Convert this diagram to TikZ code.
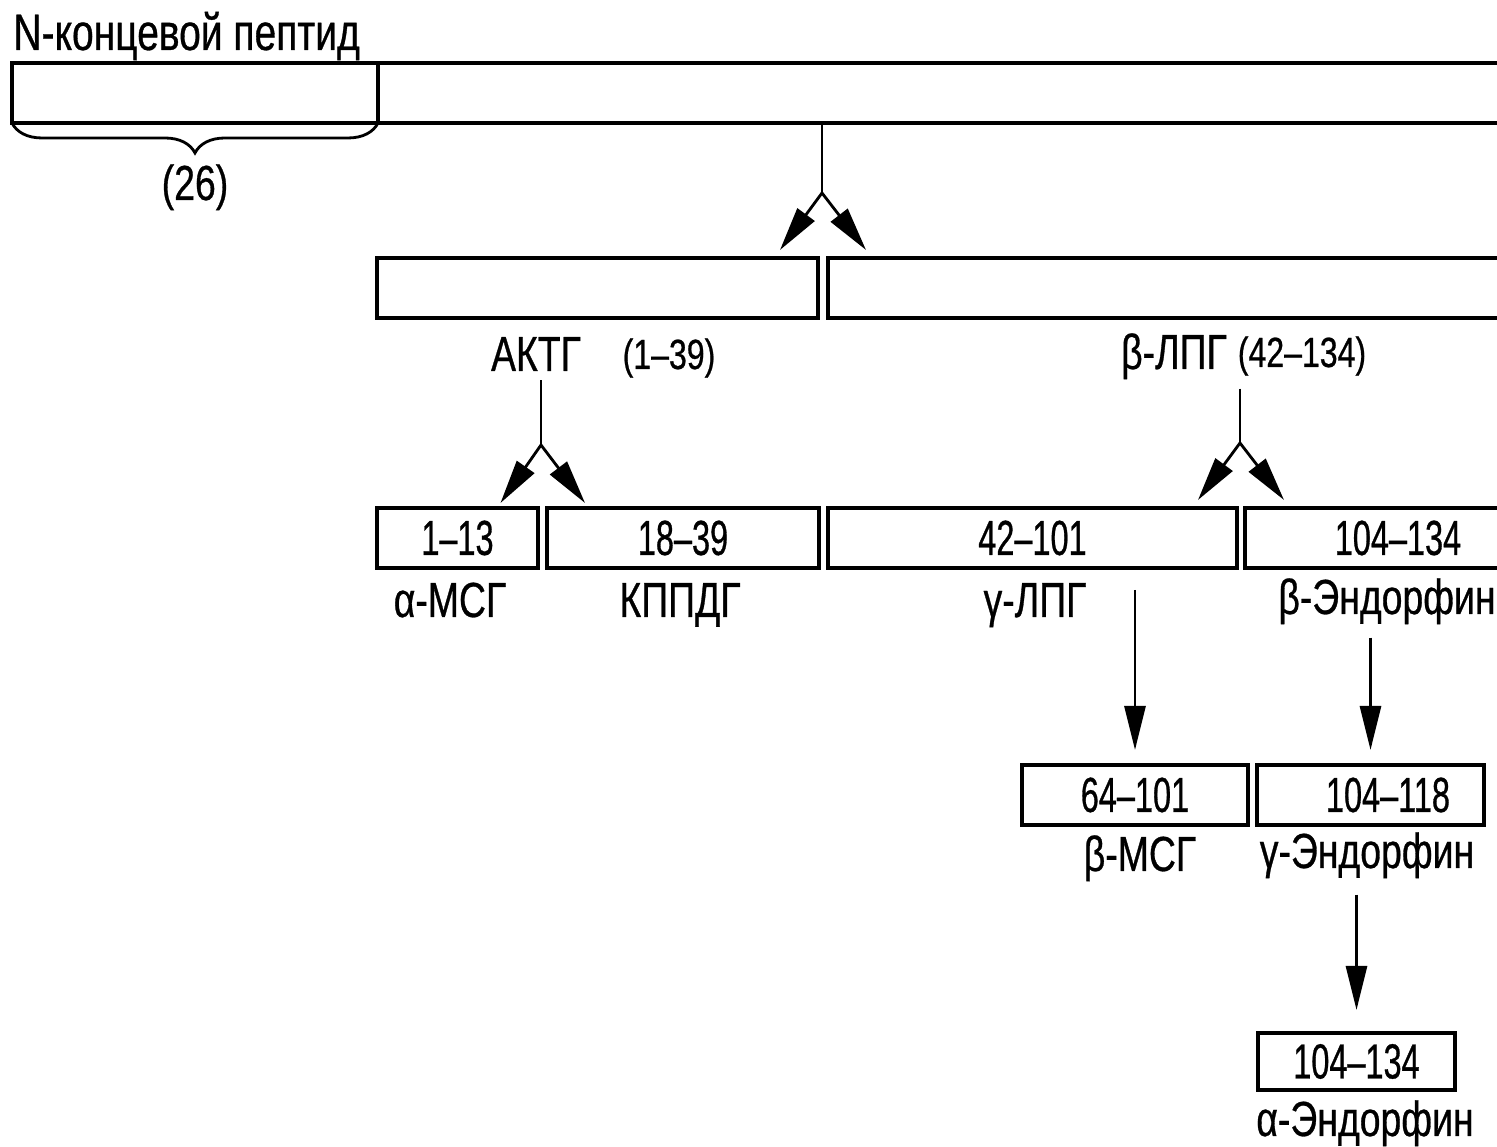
\documentclass[tikz,border=0pt]{standalone}
\usepackage{fontspec}
\setmainfont{Liberation Sans}[FakeStretch=0.76, FakeBold=0.6]
\newfontfamily\numfont{Liberation Sans}[FakeStretch=0.66, FakeBold=0.6]
\usetikzlibrary{arrows.meta, positioning, decorations.pathreplacing}

\begin{document}
\begin{tikzpicture}[
    box/.style={draw, line width=1.2pt, outer sep=0pt, minimum height=0.6cm, inner sep=0pt, font=\numfont\fontsize{14}{16}\selectfont},
    lbl/.style={inner sep=0pt, anchor=base, font=\fontsize{14}{16}\selectfont},
    rng/.style={inner sep=0pt, anchor=base, font=\fontsize{12}{14}\selectfont},
    >={Triangle[length=0.44cm, width=0.21cm]}, line width=0.8pt
]
\clip (0,0) rectangle (14.97,-11.47);

% precursor
\node[lbl, anchor=base west, font=\fontsize{14.6}{16}\selectfont] (nterm) at (0.12,-0.50) {N-концевой пептид};
\node[box, minimum width=3.66cm] (nbox) at (1.95,-0.93) {};
\node[box, anchor=west, minimum width=12cm] (pomc) at (nbox.east) {};
\draw[decorate, decoration={brace, mirror, amplitude=0.3cm}] (nbox.south west) -- (nbox.south east);
\node[lbl] (n26) at (1.95,-2.00) {(26)};

% first cleavage
\node[box, minimum width=4.41cm] (acth) at (5.975,-2.88) {};
\node[box, anchor=west, minimum width=7cm] (lph) at (8.28,-2.88) {};
\node[lbl] (acthname) at (5.36,-3.71) {АКТГ};
\node[rng] (acthrange) at (6.69,-3.69) {(1–39)};
\node[lbl] (lphname) at (11.74,-3.69) {β-ЛПГ};
\node[rng] (lphrange) at (13.02,-3.67) {(42–134)};

\coordinate (split1) at (8.22,-1.93);
\draw (split1 |- pomc.south) -- (split1);
\draw[->] (split1) -- ([xshift=-0.38cm, yshift=0.08cm]acth.north east);
\draw[->] (split1) -- ([xshift=0.38cm, yshift=0.08cm]lph.north west);

% second cleavage
\node[box, minimum width=1.61cm] (msga) at (4.575,-5.38) {1–13};
\node[box, minimum width=2.72cm] (kppdg) at (6.83,-5.38) {18–39};
\node[box, minimum width=4.09cm] (glph) at (10.325,-5.38) {42–101};
\node[box, minimum width=3.06cm] (bend) at (13.98,-5.38) {104–134};
\node[lbl] (msganame) at (4.50,-6.17) {α-МСГ};
\node[lbl] (kppdgname) at (6.80,-6.17) {КППДГ};
\node[lbl] (glphname) at (10.35,-6.17) {γ-ЛПГ};
\node[lbl] (bendname) at (13.87,-6.14) {β-Эндорфин};

\coordinate (split2) at (5.41,-4.45);
\draw ([yshift=-0.08cm]split2 |- acthname.south) -- (split2);
\draw[->] (split2) -- ([xshift=0.43cm, yshift=0.05cm]msga.north);
\draw[->] (split2) -- ([xshift=0.38cm, yshift=0.05cm]kppdg.north west);

\coordinate (split3) at (12.40,-4.43);
\draw ([yshift=-0.08cm]split3 |- lphname.south) -- (split3);
\draw[->] (split3) -- ([xshift=-0.39cm, yshift=0.08cm]glph.north east);
\draw[->] (split3) -- ([xshift=0.39cm, yshift=0.08cm]bend.north west);

% third cleavage
\node[box, minimum width=2.26cm] (msgb) at (11.35,-7.95) {64–101};
\node[box, minimum width=2.27cm] (gend) at (13.705,-7.95) {\hspace*{0.35cm}104–118};
\node[lbl] (msgbname) at (11.40,-8.71) {β-МСГ};
\node[lbl] (gendname) at (13.67,-8.68) {γ-Эндорфин};

\draw[->, shorten >=0.15cm] ([yshift=1.75cm]msgb.north) -- (msgb.north);
\draw[->, shorten >=0.15cm, shorten <=0.12cm] (bendname.south -| gend.north) -- (gend.north);

% last step
\node[box, minimum width=1.97cm, minimum height=0.57cm] (aend) at (13.565,-10.615) {104–134};
\node[lbl] (aendname) at (13.65,-11.36) {α-Эндорфин};

\draw[->, shorten >=0.23cm, shorten <=0.15cm] (gendname.south -| aend.north) -- (aend.north);
\end{tikzpicture}
\end{document}
